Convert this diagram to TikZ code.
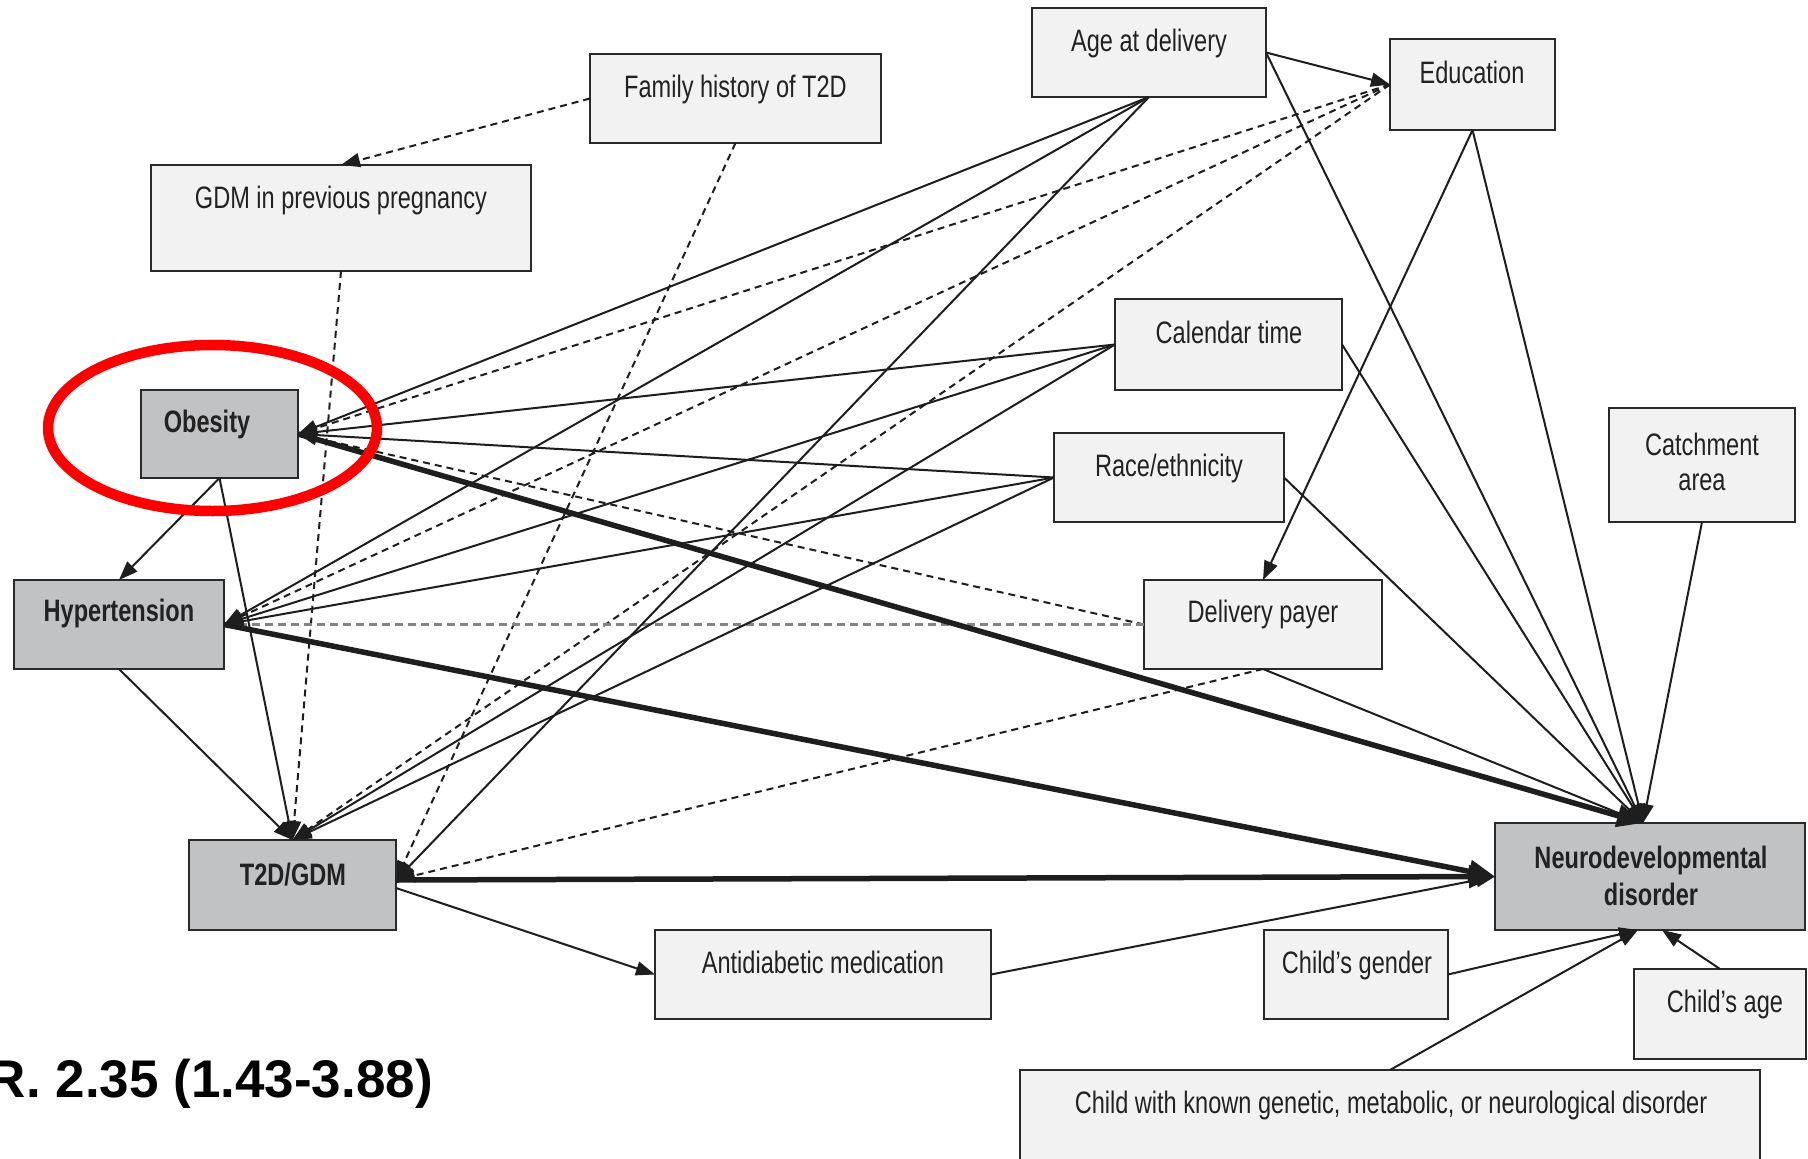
\documentclass[tikz,border=0pt]{standalone}
\usepackage{fontspec}
\setmainfont{Liberation Sans}[FakeStretch=0.76]
\newfontfamily\orfont{Liberation Sans}
\usetikzlibrary{arrows.meta}
\definecolor{lightf}{HTML}{F2F2F2}
\definecolor{darkf}{HTML}{C1C2C4}
\definecolor{bordc}{HTML}{2A2A2A}
\definecolor{txtc}{HTML}{222222}
\definecolor{linec}{HTML}{1E1E1E}
\definecolor{grayd}{HTML}{858585}
\tikzset{
 lbox/.style={draw=bordc, line width=2pt, fill=lightf, inner sep=0pt, outer sep=0pt, anchor=north west},
 dbox/.style={lbox, fill=darkf},
 lbl/.style={anchor=base, inner sep=0pt, text=txtc, font=\fontsize{31}{36}\selectfont},
 lblb/.style={anchor=base, inner sep=0pt, text=txtc, font=\fontsize{31}{36}\selectfont\bfseries},
 conn/.style={line width=2pt, draw=linec},
 arr/.style={conn, -{Triangle[length=19pt,width=14pt]}},
 dsh/.style={conn, dash pattern=on 7pt off 5pt},
 darr/.style={dsh, -{Triangle[length=19pt,width=14pt]}},
 gdsh/.style={line width=3pt, draw=grayd, dash pattern=on 8pt off 5pt},
 bigarr/.style={line width=5.5pt, draw=linec, -{Triangle[length=26pt,width=22pt]}},
}
\begin{document}
\begin{tikzpicture}[x=1pt,y=-1pt]
\useasboundingbox (0,0) rectangle (1808,1159);
\fill[white] (0,0) rectangle (1808,1159);
\clip (0,0) rectangle (1808,1159);

% boxes
\node[lbox, minimum width=291pt, minimum height=89pt] (fam) at (590,54) {};
\node[lbox, minimum width=380pt, minimum height=106pt] (gdm) at (151,165) {};
\node[lbox, minimum width=234pt, minimum height=89pt] (age) at (1032,8) {};
\node[lbox, minimum width=165pt, minimum height=91pt] (edu) at (1390,39) {};
\node[lbox, minimum width=227pt, minimum height=91pt] (cal) at (1115,299) {};
\node[lbox, minimum width=230pt, minimum height=89pt] (race) at (1054,433) {};
\node[lbox, minimum width=186pt, minimum height=114pt] (catch) at (1609,408) {};
\node[lbox, minimum width=238pt, minimum height=89pt] (pay) at (1144,580) {};
\node[dbox, minimum width=157pt, minimum height=88pt] (ob) at (141,390) {};
\node[dbox, minimum width=210pt, minimum height=89pt] (hyp) at (14,580) {};
\node[dbox, minimum width=207pt, minimum height=90pt] (t2d) at (189,840) {};
\node[dbox, minimum width=310pt, minimum height=107pt] (neuro) at (1495,823) {};
\node[lbox, minimum width=336pt, minimum height=89pt] (anti) at (655,930) {};
\node[lbox, minimum width=184pt, minimum height=89pt] (gender) at (1264,930) {};
\node[lbox, minimum width=172pt, minimum height=90pt] (cage) at (1634,969) {};
\node[lbox, minimum width=740pt, minimum height=110pt] (known) at (1020,1070) {};

% labels
\node[lbl] (fam-t) at (735.5,97) {Family history of T2D};
\node[lbl] (gdm-t) at (341,208) {GDM in previous pregnancy};
\node[lbl] (age-t) at (1149,51) {Age at delivery};
\node[lbl] (edu-t) at (1472,83) {Education};
\node[lbl] (cal-t) at (1229,343) {Calendar time};
\node[lbl] (race-t) at (1169,476) {Race/ethnicity};
\node[lbl] (catch-t1) at (1702,455) {Catchment};
\node[lbl] (catch-t2) at (1702,490) {area};
\node[lbl] (pay-t) at (1263,622) {Delivery payer};
\node[lblb] (ob-t) at (207,432) {Obesity};
\node[lblb] (hyp-t) at (119,621) {Hypertension};
\node[lblb] (t2d-t) at (293,885) {T2D/GDM};
\node[lblb] (neuro-t1) at (1651,868) {Neurodevelopmental};
\node[lblb] (neuro-t2) at (1651,905) {disorder};
\node[lbl] (anti-t) at (823,973) {Antidiabetic medication};
\node[lbl] (gender-t) at (1357,973) {Child's gender};
\node[lbl] (cage-t) at (1725,1012) {Child's age};
\node[lbl] (known-t) at (1391,1113) {Child with known genetic, metabolic, or neurological disorder};
\node[anchor=base east, inner sep=0pt, font=\orfont\bfseries\fontsize{53}{60}\selectfont] (or) at (433,1097) {R. 2.35 (1.43-3.88)};

% coordinates on nodes
\coordinate (t2dR) at ([yshift=5pt]t2d.east);
\coordinate (neuroT) at ([xshift=-7pt]neuro.north);
\coordinate (neuroB1) at ([xshift=-12pt]neuro.south);
\coordinate (neuroB2) at ([xshift=12pt]neuro.south);

% dashed connectors
\draw[darr] (fam.west) -- (gdm.north);
\draw[darr] (fam.south) -- (t2dR);
\draw[darr] (gdm.south) -- (t2d.north);
\draw[darr] (edu.west) -- (ob.east);
\draw[darr] (edu.west) -- (hyp.east);
\draw[darr] (edu.west) -- (t2d.north);
\draw[darr] (pay.west) -- (ob.east);
\draw[gdsh] (pay.west) -- (hyp.east);
\draw[darr] (pay.south) -- (t2dR);

% solid connectors
\draw[arr] (age.south) -- (ob.east);
\draw[arr] (age.south) -- (hyp.east);
\draw[arr] (age.south) -- (t2dR);
\draw[arr] (age.east) -- (edu.west);
\draw[arr] (age.east) -- (neuroT);
\draw[arr] (edu.south) -- (pay.north);
\draw[arr] (edu.south) -- (neuroT);
\draw[arr] (cal.west) -- (ob.east);
\draw[arr] (cal.west) -- (hyp.east);
\draw[arr] (cal.west) -- (t2d.north);
\draw[arr] (cal.east) -- (neuroT);
\draw[arr] (race.west) -- (ob.east);
\draw[arr] (race.west) -- (hyp.east);
\draw[arr] (race.west) -- (t2d.north);
\draw[arr] (race.east) -- (neuroT);
\draw[arr] (catch.south) -- (neuroT);
\draw[arr] (pay.south) -- (neuroT);
\draw[arr] (ob.south) -- (hyp.north);
\draw[arr] (ob.south) -- (t2d.north);
\draw[arr] (hyp.south) -- (t2d.north);
\draw[arr] ([yshift=-3pt]t2d.east) -- (anti.west);
\draw[arr] (anti.east) -- (neuro.west);
\draw[arr] (gender.east) -- (neuroB1);
\draw[arr] (known.north) -- (neuroB1);
\draw[arr] (cage.north) -- (neuroB2);

% thick connectors
\draw[bigarr] (ob.east) -- (neuroT);
\draw[bigarr] (hyp.east) -- (neuro.west);
\draw[bigarr] (t2dR) -- (neuro.west);

% red ellipse
\draw[red, line width=10.5pt] (212.5,428) ellipse [x radius=164.5pt, y radius=83pt];
\end{tikzpicture}
\end{document}
